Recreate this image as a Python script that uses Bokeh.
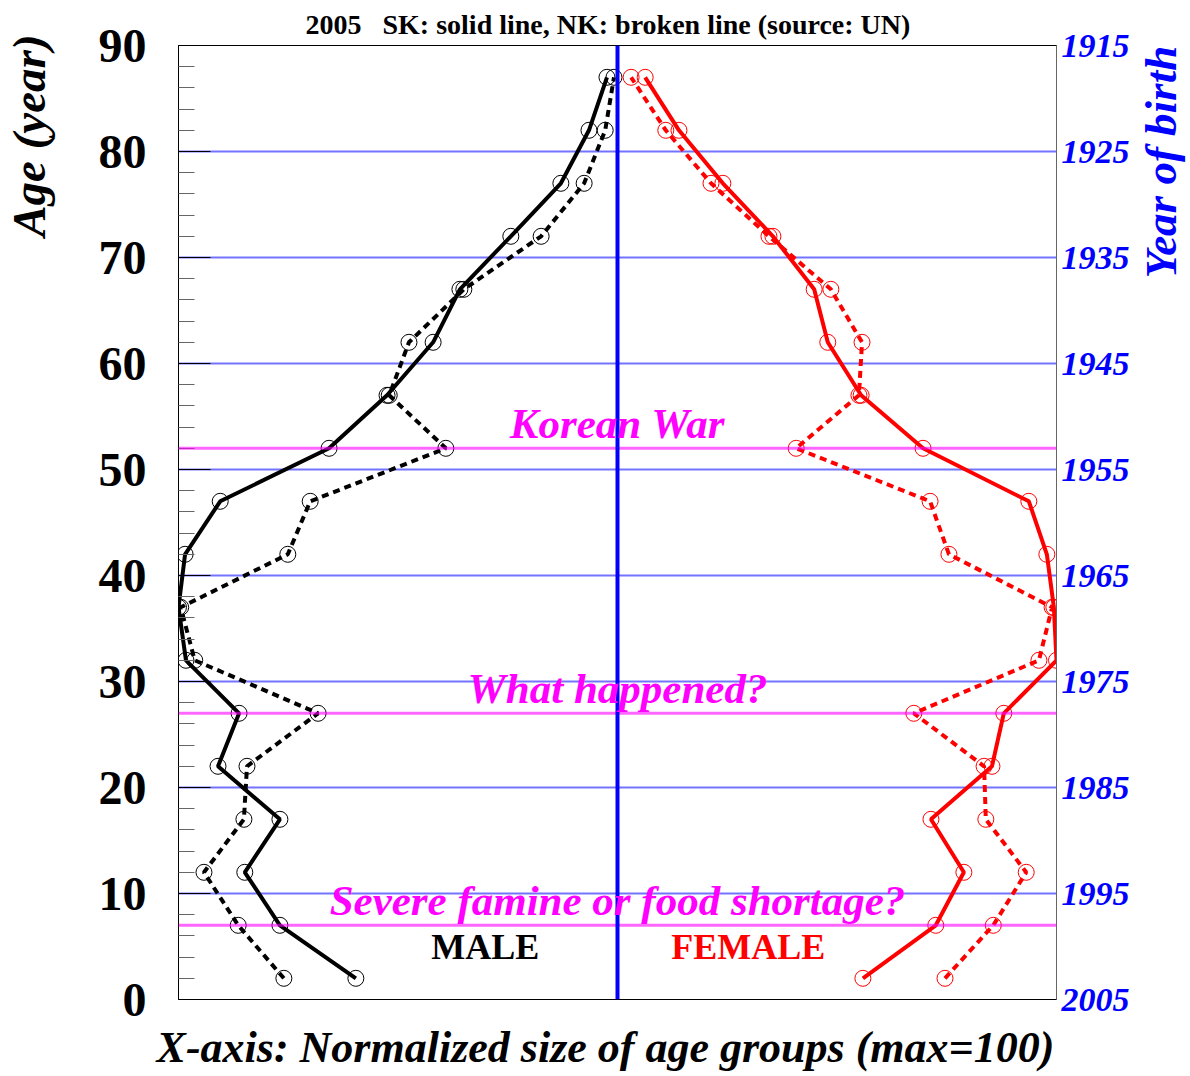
import math
from bokeh.plotting import figure
from bokeh.models import LinearAxis, FixedTicker, Range1d, Span, Label, Grid, ColumnDataSource
from bokeh.embed import file_html
from bokeh.resources import INLINE

# Age group mid-points (years)
ages = [2, 7, 12, 17, 22, 27, 32, 37, 42, 47, 52, 57, 62, 67, 72, 77, 82, 87]

# Normalized size of age groups (max = 100)
male_sk = [59.6, 76.9, 84.9, 76.9, 91.0, 86.2, 98.3, 100.0, 98.5, 90.5, 65.7, 52.5, 42.0, 35.9, 24.3, 12.9, 6.5, 2.4]
male_nk = [76.0, 86.4, 94.2, 85.1, 84.4, 68.2, 96.3, 99.5, 75.1, 70.0, 39.1, 52.0, 47.5, 35.0, 17.4, 7.6, 2.8, 0.8]
female_sk = [55.9, 72.5, 78.9, 71.4, 85.3, 88.0, 100.0, 99.4, 97.8, 93.7, 69.6, 55.5, 47.9, 44.8, 35.4, 24.0, 14.0, 6.3]
female_nk = [74.6, 85.6, 93.1, 83.9, 83.5, 67.5, 96.0, 99.0, 75.5, 71.2, 40.7, 55.0, 55.7, 48.6, 34.5, 21.3, 11.0, 3.1]

age_ticks = [0, 10, 20, 30, 40, 50, 60, 70, 80, 90]
birth_year_ref = 2005
event_ages = [52, 27, 7]
event_texts = ["Korean War", "What happened?", "Severe famine or food shortage?"]
event_text_y = [54.3, 29.3, 9.3]

SERIF = "Liberation Serif"

p = figure(width=1186, height=1072, output_backend="svg", toolbar_location=None,
           x_range=Range1d(-100, 100), y_range=Range1d(0, 90),
           x_axis_type=None, y_axis_type=None,
           min_border_left=178, min_border_right=130, min_border_top=44, min_border_bottom=73)
p.outline_line_color = "black"
p.outline_line_width = 1
p.background_fill_color = "white"
p.border_fill_color = "white"

p.title.text = "2005\u00a0\u00a0 SK: solid line, NK: broken line (source: UN)"
p.title.align = "left"
p.title.offset = 127
p.title.text_font = SERIF
p.title.text_font_size = "28px"
p.title.text_font_style = "bold"
p.title.text_color = "black"
p.title.standoff = 12

# horizontal blue grid
p.add_layout(Grid(dimension=1, ticker=FixedTicker(ticks=age_ticks[1:-1]),
                  grid_line_color="blue", grid_line_alpha=0.55, grid_line_width=2))

# left: age ticks
minor = [a for a in range(2, 90, 2) if a % 10 != 0]
yl = LinearAxis(ticker=FixedTicker(ticks=age_ticks, minor_ticks=minor),
                major_tick_in=32, major_tick_out=0, minor_tick_in=16, minor_tick_out=0,
                major_tick_line_color="black", major_tick_line_width=1,
                minor_tick_line_color="#666666", minor_tick_line_width=1,
                axis_line_color="black",
                major_label_standoff=32,
                major_label_text_font=SERIF, major_label_text_font_size="48px",
                major_label_text_font_style="bold", major_label_text_color="black")
p.add_layout(yl, "left")

# right: year of birth ticks
yr = LinearAxis(ticker=FixedTicker(ticks=age_ticks, minor_ticks=[]),
                major_tick_in=0, major_tick_out=0, minor_tick_in=0, minor_tick_out=0,
                axis_line_color="#666666",
                major_label_standoff=5,
                major_label_overrides={a: str(birth_year_ref - a) for a in age_ticks},
                major_label_text_font=SERIF, major_label_text_font_size="34px",
                major_label_text_font_style="bold italic", major_label_text_color="blue")
p.add_layout(yr, "right")

# axis titles placed in the side panels
p.add_layout(Label(x=-134.0, y=81.5, text="Age (year)", angle=math.pi / 2,
                   text_align="center", text_baseline="middle",
                   text_font=SERIF, text_font_size="47px", text_font_style="bold italic",
                   text_color="black"), "left")
p.add_layout(Label(x=123.9, y=79.0, text="Year of birth", angle=math.pi / 2,
                   text_align="center", text_baseline="middle",
                   text_font=SERIF, text_font_size="45px", text_font_style="bold italic",
                   text_color="blue"), "right")
p.add_layout(Label(x=99.5, y=-4.5, text="X-axis: Normalized size of age groups (max=100)",
                   text_align="right", text_baseline="middle",
                   text_font=SERIF, text_font_size="44px", text_font_style="bold italic",
                   text_color="black"), "below")

# event lines
for a in event_ages:
    p.add_layout(Span(location=a, dimension="width", line_color="magenta", line_alpha=0.6, line_width=3))

# center line
p.add_layout(Span(location=0, dimension="height", line_color="blue", line_width=4))

src = ColumnDataSource(data=dict(
    age=ages,
    m_sk=[-v for v in male_sk], m_nk=[-v for v in male_nk],
    f_sk=female_sk, f_nk=female_nk))

p.line("m_sk", "age", source=src, line_color="black", line_width=4)
p.line("m_nk", "age", source=src, line_color="black", line_width=4, line_dash="7 5")
p.line("f_sk", "age", source=src, line_color="red", line_width=4)
p.line("f_nk", "age", source=src, line_color="red", line_width=4, line_dash="7 5")
for col, c in [("m_sk", "black"), ("m_nk", "black"), ("f_sk", "red"), ("f_nk", "red")]:
    p.scatter(col, "age", source=src, marker="circle", size=16, fill_color=None,
              line_color=c, line_width=1)

# event texts
for t, y in zip(event_texts, event_text_y):
    p.add_layout(Label(x=0, y=y, text=t, text_align="center", text_baseline="middle",
                       text_font=SERIF, text_font_size="43px", text_font_style="bold italic",
                       text_color="magenta"))

p.add_layout(Label(x=-30.1, y=5.0, text="MALE", text_align="center", text_baseline="middle",
                   text_font=SERIF, text_font_size="36px", text_font_style="bold", text_color="black"))
p.add_layout(Label(x=29.8, y=5.0, text="FEMALE", text_align="center", text_baseline="middle",
                   text_font=SERIF, text_font_size="36px", text_font_style="bold", text_color="red"))

open("out.html", "w").write(file_html(p, INLINE))
